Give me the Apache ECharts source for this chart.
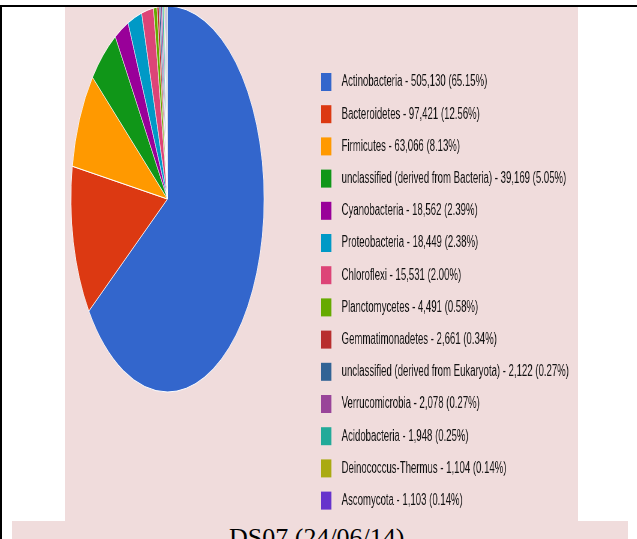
<!DOCTYPE html>
<html>
<head>
<meta charset="utf-8">
<script src="https://cdn.jsdelivr.net/npm/echarts@6/dist/echarts.min.js"></script>
<style>
  html, body { margin: 0; padding: 0; background: #fff; width: 637px; height: 539px; overflow: hidden; position: relative; }
  #rule-top { position: absolute; left: 0; top: 5px; width: 637px; height: 2px; background: #000; z-index: 5; }
  #rule-left { position: absolute; left: 0; top: 5px; width: 2px; height: 534px; background: #000; z-index: 5; }
  #panel { position: absolute; left: 65px; top: 7px; width: 513px; height: 514px; background: #f0dcdc; overflow: hidden; }
  #pie, #key { position: absolute; left: 0; top: 0; height: 514px; transform-origin: 0 0; }
  #pie { width: 1026px; transform: scaleX(0.5); }
  #key { width: 855px; transform: scaleX(0.6); }
  #caption { position: absolute; left: 12px; top: 521px; width: 616px; height: 18px; background: #f0dcdc; overflow: hidden; }
  #caption span { position: absolute; left: 217px; top: 4px; font-family: "Liberation Serif", "Times New Roman", serif; font-size: 26px; line-height: 1; color: #000; white-space: nowrap; }
</style>
</head>
<body>
<div id="rule-top"></div>
<div id="rule-left"></div>
<div id="panel">
  <div id="pie"></div>
  <div id="key"></div>
</div>
<div id="caption"><span>DS07 (24/06/14)</span></div>
<script>
// Phylum-level read counts for sample DS07
const categories = [
  'Actinobacteria', 'Bacteroidetes', 'Firmicutes', 'unclassified (derived from Bacteria)',
  'Cyanobacteria', 'Proteobacteria', 'Chloroflexi', 'Planctomycetes', 'Gemmatimonadetes',
  'unclassified (derived from Eukaryota)', 'Verrucomicrobia', 'Acidobacteria',
  'Deinococcus-Thermus', 'Ascomycota'
];
const counts = [505130, 97421, 63066, 39169, 18562, 18449, 15531, 4491, 2661, 2122, 2078, 1948, 1104, 1103];
const shares = ['65.15%', '12.56%', '8.13%', '5.05%', '2.39%', '2.38%', '2.00%', '0.58%', '0.34%', '0.27%', '0.27%', '0.25%', '0.14%', '0.14%'];
const palette = ['#3366cc', '#dc3912', '#ff9900', '#109618', '#990099', '#0099c6', '#dd4477',
  '#66aa00', '#b82e2e', '#316395', '#994499', '#22aa99', '#aaaa11', '#6633cc'];
// remaining minor phyla grouped together
const otherName = 'Other';
const otherCount = 2498;
const otherColor = '#cccccc';

function withCommas(n) {
  return String(n).replace(/\B(?=(\d{3})+(?!\d))/g, ',');
}

const sliceData = categories.map((name, i) => ({
  name: name, value: counts[i], itemStyle: { color: palette[i] }
}));
sliceData.push({ name: otherName, value: otherCount, itemStyle: { color: otherColor } });

// Pie, drawn in a horizontally squeezed container
const pie = echarts.init(document.getElementById('pie'));
pie.setOption({
  animation: false,
  series: [{
    type: 'pie',
    center: [205, 192],
    radius: 193,
    startAngle: 90,
    clockwise: true,
    label: { show: false },
    labelLine: { show: false },
    emphasis: { disabled: true },
    itemStyle: { borderColor: '#ffffff', borderWidth: 1 },
    data: sliceData
  }]
});

// Legend, in its own container with a lighter squeeze
const key = echarts.init(document.getElementById('key'));
key.setOption({
  animation: false,
  legend: {
    orient: 'vertical',
    left: 427,
    top: 66,
    padding: 0,
    itemWidth: 17,
    itemHeight: 18,
    itemGap: 14.2,
    icon: 'rect',
    selectedMode: false,
    data: categories,
    formatter: function (name) {
      const i = categories.indexOf(name);
      return name + ' - ' + withCommas(counts[i]) + ' (' + shares[i] + ')';
    },
    textStyle: {
      fontFamily: 'Liberation Sans',
      fontSize: 16,
      lineHeight: 18,
      color: '#111111',
      padding: [0, 0, 0, 12]
    }
  },
  series: [{
    type: 'pie',
    center: [-100, -100],
    radius: 1,
    silent: true,
    label: { show: false },
    labelLine: { show: false },
    data: sliceData
  }]
});
</script>
</body>
</html>
